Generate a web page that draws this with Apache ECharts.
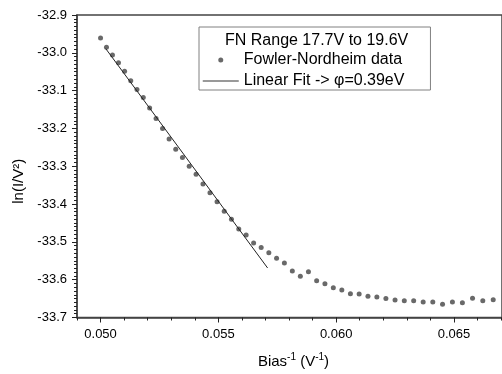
<!DOCTYPE html>
<html><head><meta charset="utf-8">
<script src="https://cdn.jsdelivr.net/npm/echarts@6/dist/echarts.min.js"></script>
<style>html,body{margin:0;padding:0;background:#fff}#c{width:502px;height:374px}</style>
</head><body><div id="c"></div>
<script>
// Bias^-1 (V^-1)
const biasInv = [0.050000,0.050251,0.050505,0.050761,0.051020,0.051282,0.051546,0.051813,0.052083,0.052356,
0.052632,0.052910,0.053191,0.053476,0.053763,0.054054,0.054348,0.054645,0.054945,0.055249,
0.055556,0.055866,0.056180,0.056497,0.056818,0.057143,0.057471,0.057803,0.058140,0.058480,
0.058824,0.059172,0.059524,0.059880,0.060241,0.060606,0.060976,0.061350,0.061728,0.062112,
0.062500,0.062893,0.063291,0.063694,0.064103,0.064516,0.064935,0.065359,0.065789,0.066225,0.066667];
// ln(I/V^2)
const lnIV2 = [-32.961,-32.985,-33.006,-33.026,-33.049,-33.074,-33.097,-33.118,-33.146,-33.174,
-33.200,-33.228,-33.255,-33.277,-33.300,-33.321,-33.347,-33.370,-33.394,-33.419,
-33.440,-33.466,-33.482,-33.503,-33.515,-33.529,-33.543,-33.556,-33.577,-33.591,
-33.579,-33.603,-33.611,-33.621,-33.627,-33.637,-33.638,-33.644,-33.646,-33.650,
-33.654,-33.656,-33.656,-33.659,-33.659,-33.665,-33.659,-33.661,-33.649,-33.656,-33.653];
// Linear fit endpoints
const fitX = [0.05022, 0.05709];
const fitY = [-32.989, -33.569];
// axis ticks
const xTickValues = [0.050, 0.055, 0.060, 0.065];
const yTickValues = [-33.7, -33.6, -33.5, -33.4, -33.3, -33.2, -33.1, -33.0, -32.9];
const titleText = 'FN Range 17.7V to 19.6V';
const seriesNames = ['Fowler-Nordheim data', 'Linear Fit -> \u03c6=0.39eV'];

const FONT = '"Liberation Sans", Arial, sans-serif';
const scatterData = biasInv.map((x, i) => [x, lnIV2[i]]);
const fitData = fitX.map((x, i) => [x, fitY[i]]);

const chart = echarts.init(document.getElementById('c'), null, {renderer: 'canvas'});
chart.setOption({
  animation: false,
  backgroundColor: '#fff',
  textStyle: {fontFamily: FONT},
  title: {
    text: titleText, left: 225, top: 33, padding: 0,
    textStyle: {fontSize: 16, fontWeight: 'normal', color: '#000', fontFamily: FONT}
  },
  legend: {
    orient: 'vertical', left: 199, top: 27,
    padding: [24, 26, 0, 3],
    borderColor: '#808080', borderWidth: 1,
    itemWidth: 36, itemHeight: 5, itemGap: 3,
    textStyle: {fontSize: 16, color: '#000', fontFamily: FONT, lineHeight: 18},
    data: [
      {name: seriesNames[0], icon: 'circle', itemStyle: {color: '#444'}},
      {name: seriesNames[1], itemStyle: {opacity: 0, color: '#777', borderWidth: 0}, lineStyle: {color: '#777', width: 1.5}}
    ]
  },
  grid: {
    left: 77, top: 15, width: 434, height: 304,
    show: true, borderColor: '#444', borderWidth: 1.5, backgroundColor: 'transparent'
  },
  xAxis: [{
    type: 'value', min: 0.049, max: 0.06704, position: 'bottom',
    name: '{a|Bias}{s|-1}{a| (V}{s|-1}{a|)}',
    nameLocation: 'middle', nameGap: 35,
    nameTextStyle: {
      padding: [0, 0, 0, 8],
      rich: {
        a: {fontSize: 15, color: '#000', fontFamily: FONT},
        s: {fontSize: 10, color: '#000', fontFamily: FONT, padding: [0, 0, 8, 0]}
      }
    },
    axisLine: {show: true, lineStyle: {color: '#444', width: 1.5}},
    axisTick: {show: true, customValues: xTickValues, length: 5, inside: false, lineStyle: {color: '#222', width: 1}},
    axisLabel: {customValues: xTickValues, formatter: v => v.toFixed(3), fontSize: 13, color: '#000', margin: 10, fontFamily: FONT},
    splitLine: {show: false}
  }, {
    type: 'value', min: 0.049, max: 0.06704, interval: 0.001, position: 'bottom', gridIndex: 0,
    axisLine: {show: false},
    axisTick: {show: true, length: 3, lineStyle: {color: '#222', width: 1}},
    axisLabel: {show: false},
    splitLine: {show: false}
  }],
  yAxis: {
    type: 'value', min: -33.7, max: -32.9, interval: 0.1,
    name: 'ln(I/V\u00b2)', nameLocation: 'middle', nameGap: 50, nameRotate: 90,
    nameTextStyle: {fontSize: 15, color: '#000', fontFamily: FONT, padding: [0, 30, 0, 0]},
    axisLine: {show: true, lineStyle: {color: '#444', width: 1.5}},
    axisTick: {show: true, customValues: yTickValues, length: 5, lineStyle: {color: '#222', width: 1}},
    minorTick: {show: true, splitNumber: 10, length: 3, lineStyle: {color: '#222', width: 1}},
    axisLabel: {customValues: yTickValues, formatter: v => v.toFixed(1), fontSize: 13, color: '#000', margin: 10, fontFamily: FONT},
    splitLine: {show: false}
  },
  series: [{
    name: seriesNames[0], type: 'scatter', xAxisIndex: 0,
    data: scatterData, symbol: 'circle', symbolSize: 5,
    itemStyle: {color: '#444'}
  }, {
    name: seriesNames[1], type: 'line', xAxisIndex: 0,
    data: fitData, symbol: 'none', showSymbol: false,
    lineStyle: {color: '#222', width: 1}
  }]
});
</script></body></html>
